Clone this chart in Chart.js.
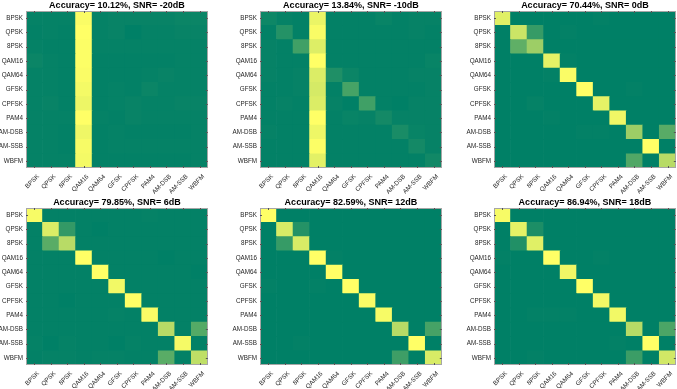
<!DOCTYPE html>
<html>
<head>
<meta charset="utf-8">
<script src="https://cdn.jsdelivr.net/npm/chart.js@4.4.1/dist/chart.umd.min.js"></script>
<style>
html, body { margin: 0; padding: 0; background: #fff; overflow: hidden; }
body { width: 677px; height: 389px; position: relative; }
.panel { position: absolute; }
</style>
</head>
<body>
<script>
// class names, rows top to bottom / columns left to right
const CLASSES = ["BPSK", "QPSK", "8PSK", "QAM16", "QAM64", "GFSK", "CPFSK", "PAM4", "AM-DSB", "AM-SSB", "WBFM"];
const SNRS = [-20, -10, 0, 6, 12, 18];
const ACCURACY = [10.12, 13.84, 70.44, 79.85, 82.59, 86.94];

// confusion matrices (%)
const M_N20 = [
  [2, 2, 2, 95, 2, 3, 3, 3, 3, 4, 4],
  [1, 2, 1, 97, 2, 3, 0, 2, 2, 3, 3],
  [2, 1, 1, 96, 2, 2, 2, 2, 2, 2, 2],
  [4, 2, 1, 96, 1, 1, 1, 1, 1, 2, 2],
  [2, 2, 1, 95, 1, 1, 1, 2, 3, 2, 2],
  [2, 2, 1, 93, 1, 2, 1, 4, 2, 2, 2],
  [2, 3, 1, 90, 1, 2, 3, 2, 2, 3, 3],
  [2, 2, 2, 97, 2, 1, 3, 2, 2, 2, 2],
  [2, 2, 1, 91, 1, 2, 1, 1, 1, 1, 2],
  [2, 2, 1, 94, 1, 2, 2, 2, 2, 2, 2],
  [2, 2, 2, 93, 1, 1, 1, 1, 1, 1, 2]
];
const M_N10 = [
  [6, 3, 2, 85, 2, 2, 2, 4, 2, 3, 3],
  [2, 14, 2, 90, 2, 2, 2, 2, 2, 3, 2],
  [3, 2, 24, 80, 2, 2, 2, 2, 2, 2, 2],
  [3, 2, 2, 92, 2, 2, 2, 2, 2, 2, 4],
  [3, 2, 3, 79, 12, 5, 2, 2, 2, 3, 3],
  [2, 2, 3, 77, 2, 26, 2, 2, 2, 2, 3],
  [2, 3, 2, 79, 3, 1, 24, 2, 1, 3, 3],
  [2, 2, 2, 92, 2, 4, 3, 8, 3, 3, 3],
  [3, 2, 2, 86, 2, 2, 2, 2, 10, 4, 3],
  [2, 2, 2, 91, 2, 2, 2, 2, 2, 8, 3],
  [2, 2, 2, 82, 2, 2, 2, 2, 2, 2, 7]
];
const M_0 = [
  [88, 1, 1, 1, 1, 1, 2, 1, 1, 1, 1],
  [1, 80, 22, 1, 2, 1, 1, 1, 1, 1, 1],
  [1, 38, 62, 1, 1, 1, 1, 1, 1, 1, 1],
  [1, 1, 1, 90, 2, 1, 1, 1, 1, 1, 1],
  [1, 1, 1, 2, 98, 1, 1, 1, 1, 1, 1],
  [1, 1, 1, 1, 1, 100, 1, 1, 2, 1, 1],
  [1, 1, 3, 1, 1, 1, 90, 1, 1, 1, 1],
  [1, 1, 1, 2, 1, 1, 1, 94, 1, 1, 1],
  [1, 1, 1, 1, 1, 2, 2, 1, 62, 1, 35],
  [1, 1, 1, 1, 1, 1, 1, 1, 1, 100, 1],
  [1, 1, 1, 1, 1, 1, 1, 1, 32, 1, 72]
];
const M_6 = [
  [97, 1, 1, 1, 1, 1, 1, 2, 1, 1, 1],
  [1, 86, 20, 1, 0, 1, 1, 1, 1, 1, 1],
  [1, 35, 72, 1, 1, 1, 1, 1, 1, 1, 1],
  [1, 1, 1, 100, 1, 1, 1, 1, 0, 1, 1],
  [1, 1, 1, 1, 100, 1, 1, 1, 1, 1, 0],
  [1, 1, 1, 1, 1, 95, 1, 1, 1, 1, 1],
  [1, 1, 0, 1, 1, 1, 100, 1, 1, 1, 1],
  [1, 1, 1, 1, 1, 2, 1, 98, 1, 1, 1],
  [1, 1, 1, 1, 1, 1, 1, 1, 72, 1, 33],
  [2, 0, 2, 1, 1, 0, 2, 1, 1, 96, 1],
  [1, 2, 2, 1, 2, 2, 1, 1, 35, 1, 75]
];
const M_12 = [
  [100, 1, 1, 1, 1, 1, 1, 1, 1, 1, 1],
  [1, 85, 15, 1, 1, 1, 1, 1, 1, 1, 1],
  [1, 22, 85, 1, 1, 1, 1, 1, 1, 1, 1],
  [1, 1, 1, 100, 2, 1, 1, 1, 1, 1, 1],
  [1, 1, 1, 1, 100, 1, 1, 1, 1, 1, 1],
  [2, 1, 1, 2, 1, 100, 1, 1, 1, 1, 1],
  [1, 1, 1, 1, 1, 1, 98, 1, 1, 1, 1],
  [1, 1, 1, 1, 1, 1, 1, 97, 1, 1, 1],
  [1, 1, 1, 1, 1, 1, 1, 1, 72, 1, 28],
  [1, 1, 2, 1, 1, 1, 1, 1, 1, 100, 1],
  [1, 1, 1, 1, 1, 1, 1, 1, 25, 1, 85]
];
const M_18 = [
  [97, 1, 1, 1, 1, 1, 1, 1, 1, 1, 1],
  [1, 90, 12, 1, 1, 1, 1, 1, 1, 1, 1],
  [1, 14, 88, 1, 1, 1, 1, 1, 1, 1, 1],
  [2, 1, 1, 100, 1, 1, 2, 1, 1, 1, 1],
  [1, 1, 1, 1, 94, 1, 1, 1, 1, 1, 1],
  [1, 1, 1, 1, 1, 100, 1, 1, 1, 1, 1],
  [1, 1, 1, 1, 1, 1, 95, 1, 1, 1, 1],
  [1, 1, 2, 2, 2, 1, 1, 95, 1, 1, 1],
  [1, 1, 1, 1, 1, 1, 1, 1, 72, 1, 30],
  [1, 1, 1, 1, 1, 1, 1, 2, 1, 100, 1],
  [1, 1, 2, 1, 1, 1, 1, 1, 24, 1, 82]
];
const MATRICES = [M_N20, M_N10, M_0, M_6, M_12, M_18];

// plot area top-left of each panel on the page
const ORIGINS = [[26, 11], [260, 11], [494, 11], [26, 208], [260, 208], [494, 208]];
const AREA_W = 182, AREA_H = 157, YAX_W = 40, XAX_H = 40, TITLE_H = 11;

Chart.defaults.font.family = "'Liberation Sans', Arial, sans-serif";
Chart.defaults.color = "#262626";

// MATLAB "summer" colormap
function summer(t) {
  return `rgb(${Math.round(255 * t)}, ${Math.round(255 * (0.5 + 0.5 * t))}, 102)`;
}

// axes box + inner tick marks, matlab style
const boxPlugin = {
  id: "box",
  afterDatasetsDraw(chart) {
    const { ctx, chartArea: a } = chart;
    const xs = chart.scales.x, ys = chart.scales.y;
    ctx.save();
    ctx.strokeStyle = "#a6a6a6";
    ctx.lineWidth = 1;
    ctx.strokeRect(Math.round(a.left) + 0.5, Math.round(a.top) + 0.5, Math.round(a.width) - 1, Math.round(a.height) - 1);
    ctx.strokeStyle = "#555";
    ctx.beginPath();
    CLASSES.forEach((c, i) => {
      const x = Math.round(xs.getPixelForValue(i)) + 0.5;
      ctx.moveTo(x, a.top); ctx.lineTo(x, a.top + 2);
      ctx.moveTo(x, a.bottom); ctx.lineTo(x, a.bottom - 2);
      const y = Math.round(ys.getPixelForValue(i + 0.5)) + 0.5;
      ctx.moveTo(a.left, y); ctx.lineTo(a.left + 2, y);
      ctx.moveTo(a.right, y); ctx.lineTo(a.right - 2, y);
    });
    ctx.stroke();
    ctx.restore();
  }
};

MATRICES.forEach((m, p) => {
  const flat = m.flat();
  const lo = Math.min(...flat), hi = Math.max(...flat);

  const div = document.createElement("div");
  div.className = "panel";
  div.style.left = (ORIGINS[p][0] - YAX_W) + "px";
  div.style.top = (ORIGINS[p][1] - TITLE_H) + "px";
  const canvas = document.createElement("canvas");
  canvas.width = YAX_W + AREA_W + 2;
  canvas.height = TITLE_H + AREA_H + XAX_H;
  div.appendChild(canvas);
  document.body.appendChild(div);

  // one stacked dataset per row, bottom row first
  const datasets = m.slice().reverse().map((row, i) => ({
    label: CLASSES[10 - i],
    data: row.map(() => 1),
    backgroundColor: row.map(v => summer((v - lo) / (hi - lo))),
    borderWidth: 0,
    barPercentage: 1,
    categoryPercentage: 1
  }));

  new Chart(canvas, {
    type: "bar",
    data: { labels: CLASSES, datasets },
    options: {
      responsive: false,
      animation: false,
      layout: { padding: { left: 0, right: 2, top: 0, bottom: 0 } },
      plugins: {
        legend: { display: false },
        tooltip: { enabled: false },
        title: {
          display: true,
          text: `Accuracy= ${ACCURACY[p].toFixed(2)}%, SNR= ${SNRS[p]}dB`,
          fullSize: false,
          color: "#000",
          font: { size: 9, weight: "bold", lineHeight: 1.2 },
          padding: { top: 0.2, bottom: 0 }
        }
      },
      scales: {
        x: {
          stacked: true,
          grid: { display: false, drawTicks: false },
          border: { display: false },
          ticks: { autoSkip: false, maxRotation: 45, minRotation: 45, padding: 5, labelOffset: 4, font: { size: 6.3 } },
          afterFit: s => { s.height = XAX_H; }
        },
        y: {
          stacked: true,
          min: 0,
          max: 11,
          grid: { display: false, drawTicks: false },
          border: { display: false },
          afterBuildTicks: s => { s.ticks = CLASSES.map((c, i) => ({ value: i + 0.5 })); },
          ticks: { autoSkip: false, padding: 3, font: { size: 6.3 }, callback: (v, i) => CLASSES[10 - i] },
          afterFit: s => { s.width = YAX_W; }
        }
      }
    },
    plugins: [boxPlugin]
  });
});
</script>
</body>
</html>
